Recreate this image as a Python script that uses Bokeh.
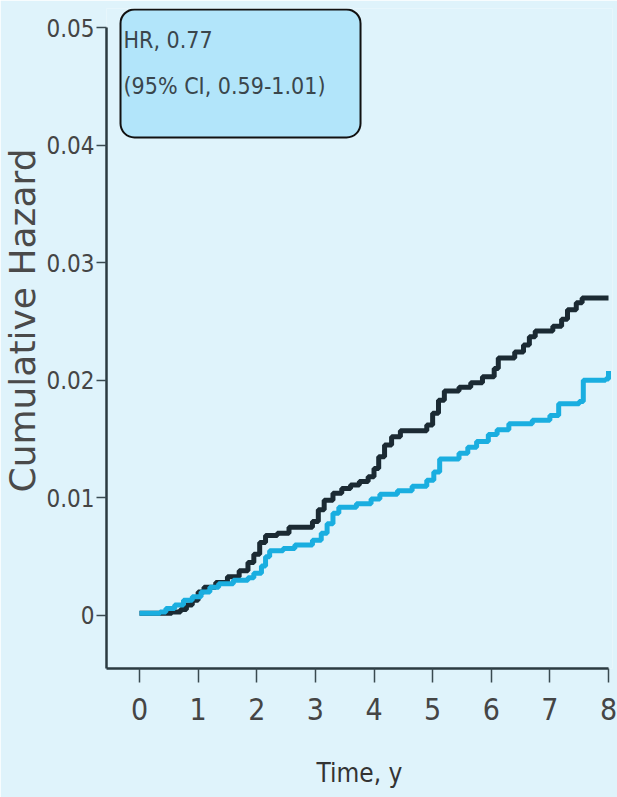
from bokeh.plotting import figure
from bokeh.models import FixedTicker, BoxAnnotation, Label, Title
from bokeh.embed import file_html
from bokeh.resources import INLINE

# ---- data ----
black_t = [0.0, 0.30, 0.55, 0.70, 0.80, 0.90, 1.00, 1.10, 1.30, 1.50, 1.70, 1.85, 1.95,
           2.05, 2.15, 2.35, 2.55, 2.95, 3.05, 3.15, 3.30, 3.45, 3.60, 3.75, 3.90, 4.00,
           4.08, 4.18, 4.30, 4.45, 4.90, 5.00, 5.10, 5.20, 5.45, 5.65, 5.85, 6.05, 6.12,
           6.40, 6.55, 6.65, 6.75, 7.05, 7.20, 7.30, 7.45, 7.55, 8.00]
black_h = [0.0002, 0.0002, 0.0003, 0.0005, 0.0009, 0.0013, 0.0020, 0.0024, 0.0028, 0.0033,
           0.0038, 0.0045, 0.0052, 0.0062, 0.0068, 0.0070, 0.0075, 0.0080, 0.0090, 0.0098,
           0.0104, 0.0108, 0.0111, 0.0114, 0.0118, 0.0125, 0.0135, 0.0145, 0.0152, 0.0157,
           0.0162, 0.0172, 0.0183, 0.0191, 0.0194, 0.0198, 0.0203, 0.0210, 0.0219, 0.0224,
           0.0230, 0.0237, 0.0242, 0.0246, 0.0252, 0.0260, 0.0266, 0.0270, 0.0270]

cyan_t = [0.0, 0.35, 0.45, 0.60, 0.75, 0.90, 1.05, 1.20, 1.35, 1.60, 1.85, 1.95, 2.08,
          2.15, 2.22, 2.45, 2.65, 2.95, 3.10, 3.20, 3.30, 3.40, 3.70, 3.95, 4.10, 4.40,
          4.65, 4.90, 5.02, 5.12, 5.45, 5.60, 5.75, 5.95, 6.10, 6.30, 6.70, 7.00, 7.15,
          7.50, 7.57, 7.95, 8.00]
cyan_h = [0.0002, 0.0003, 0.0006, 0.0009, 0.0013, 0.0016, 0.0020, 0.0024, 0.0027, 0.0030,
          0.0032, 0.0036, 0.0042, 0.0050, 0.0055, 0.0057, 0.0060, 0.0064, 0.0070, 0.0078,
          0.0087, 0.0092, 0.0095, 0.0099, 0.0103, 0.0106, 0.0110, 0.0115, 0.0122, 0.0133,
          0.0138, 0.0143, 0.0148, 0.0154, 0.0158, 0.0163, 0.0166, 0.0170, 0.0180, 0.0182,
          0.0200, 0.0201, 0.0208]

x_ticks = [0, 1, 2, 3, 4, 5, 6, 7, 8]
y_ticks = [0, 0.01, 0.02, 0.03, 0.04, 0.05]
y_tick_labels = ["0", "0.01", "0.02", "0.03", "0.04", "0.05"]
hr_line1 = "HR, 0.77"
hr_line2 = "(95% CI, 0.59-1.01)"
x_title = "Time, y"
y_title = "Cumulative Hazard"

BG = "#dff3fb"
COND = "DejaVu Sans Condensed"

x_start, x_end = -0.563, 8.068
y_start, y_end = -0.004507, 0.051616

p = figure(width=617, height=797, output_backend="svg", toolbar_location=None,
           x_range=(x_start, x_end), y_range=(y_start, y_end),
           min_border_left=106, min_border_right=5, min_border_top=8, min_border_bottom=129)
p.background_fill_color = BG
p.border_fill_color = BG
p.outline_line_color = None
p.grid.visible = False

# axes
for ax in (p.xaxis[0], p.yaxis[0]):
    ax.axis_line_color = "#2b3a40"
    ax.axis_line_width = 2.5
    ax.major_tick_line_color = "#3a4a50"
    ax.major_tick_line_width = 1.5
    ax.major_tick_in = 0
    ax.minor_tick_line_color = None
    ax.major_label_text_color = "#454545"
    ax.major_label_text_font = COND

p.xaxis.ticker = FixedTicker(ticks=x_ticks)
p.xaxis.major_tick_out = 14
p.xaxis.major_label_text_font_size = "30px"
p.xaxis.major_label_standoff = 15
p.xaxis.bounds = (x_start, 8)
p.xaxis.axis_label = x_title
p.xaxis.axis_label_standoff = 35
p.xaxis.axis_label_text_font = COND
p.xaxis.axis_label_text_font_size = "26px"
p.xaxis.axis_label_text_font_style = "normal"
p.xaxis.axis_label_text_color = "#333333"

p.yaxis.ticker = FixedTicker(ticks=y_ticks)
p.yaxis.major_label_overrides = {t: s for t, s in zip(y_ticks, y_tick_labels)}
p.yaxis.major_tick_out = 10
p.yaxis.major_label_text_font_size = "24px"
p.yaxis.major_label_standoff = 2
p.yaxis.bounds = (y_start, 0.05)
p.yaxis.axis_label = None

# HR box
box = BoxAnnotation(left=-0.324, right=3.77, top=0.05154, bottom=0.04065,
                    fill_color="#b2e5fa", fill_alpha=1.0,
                    line_color="#111111", line_alpha=1.0, line_width=2, border_radius=14)
p.add_layout(box)
p.add_layout(Label(x=-0.273, y=0.048895, text=hr_line1, text_font=COND,
                   text_font_size="23px", text_color="#3a464c",
                   text_baseline="alphabetic", text_align="left"))
p.add_layout(Label(x=-0.273, y=0.045068, text=hr_line2, text_font=COND,
                   text_font_size="23px", text_color="#3a464c",
                   text_baseline="alphabetic", text_align="left"))

# curves
p.step(black_t, black_h, mode="after", line_color="#1b2a33", line_width=5)
p.step(cyan_t, cyan_h, mode="after", line_color="#1aaee0", line_width=5)

# y title
p.add_layout(Title(text=y_title, align="left", offset=176, vertical_align="middle",
                   standoff=0, text_font="DejaVu Sans", text_font_size="36px",
                   text_font_style="normal", text_color="#4a4a4a"), "left")

open("out.html", "w").write(file_html(p, INLINE))
